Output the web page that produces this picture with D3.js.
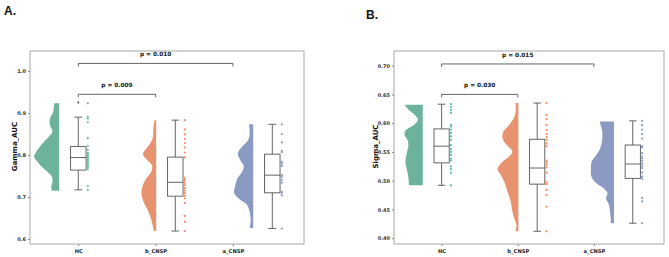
<!DOCTYPE html>
<html><head><meta charset="utf-8">
<script src="https://cdn.jsdelivr.net/npm/d3@7"></script>
<style>body{margin:0;background:#fff}svg{display:block}</style>
</head><body>
<script>
const categories = ["HC", "b_CNSP", "a_CNSP"];
const fillColors = ["#6db39b", "#e9926f", "#8b9ac3"];
const pointColors = ["#5cc29f", "#f7895b", "#8499cc"];

// ---------- Panel A : Gamma_AUC ----------
const gammaTicks = [0.6, 0.7, 0.8, 0.9, 1.0];
const gammaPoints = [
  [0.923, 0.891, 0.887, 0.878, 0.840, 0.822, 0.812, 0.805, 0.800, 0.797, 0.794, 0.790, 0.786, 0.782, 0.778, 0.774, 0.770, 0.766, 0.726, 0.717],
  [0.883, 0.861, 0.849, 0.838, 0.828, 0.818, 0.806, 0.795, 0.745, 0.740, 0.734, 0.729, 0.721, 0.715, 0.709, 0.703, 0.697, 0.686, 0.655, 0.641, 0.619],
  [0.873, 0.850, 0.830, 0.810, 0.807, 0.784, 0.780, 0.774, 0.752, 0.748, 0.741, 0.734, 0.713, 0.710, 0.704, 0.625]
];
// [whisker low, q1, median, q3, whisker high]
const gammaBox = [
  [0.717, 0.764, 0.794, 0.820, 0.890],
  [0.619, 0.702, 0.735, 0.795, 0.883],
  [0.625, 0.710, 0.752, 0.802, 0.873]
];
const gammaOutliers = [[0.925], [], []];
// [value, relative density]
const gammaViolin = [
  [[0.923,0.20],[0.903,0.24],[0.887,0.37],[0.871,0.37],[0.856,0.27],[0.840,0.47],[0.824,0.72],[0.808,0.91],[0.796,1.0],[0.784,0.87],[0.772,0.69],[0.760,0.47],[0.748,0.29],[0.736,0.27],[0.725,0.32],[0.715,0.29]],
  [[0.883,0.07],[0.864,0.11],[0.840,0.14],[0.824,0.28],[0.807,0.50],[0.800,0.52],[0.788,0.36],[0.774,0.16],[0.760,0.20],[0.740,0.44],[0.721,0.57],[0.705,0.58],[0.688,0.50],[0.669,0.34],[0.650,0.22],[0.633,0.14],[0.619,0.09]],
  [[0.873,0.17],[0.852,0.14],[0.836,0.20],[0.820,0.44],[0.804,0.61],[0.788,0.52],[0.774,0.38],[0.760,0.44],[0.745,0.62],[0.726,0.72],[0.710,0.76],[0.695,0.56],[0.681,0.24],[0.664,0.14],[0.645,0.10],[0.626,0.14]]
];
const gammaBrackets = [
  {from: "HC", to: "b_CNSP", level: 0.9445, label: "p = 0.009"},
  {from: "HC", to: "a_CNSP", level: 1.018, label: "p = 0.010"}
];

// ---------- Panel B : Sigma_AUC ----------
const sigmaTicks = [0.40, 0.45, 0.50, 0.55, 0.60, 0.65, 0.70];
const sigmaPoints = [
  [0.633, 0.628, 0.623, 0.618, 0.597, 0.594, 0.589, 0.583, 0.577, 0.571, 0.562, 0.555, 0.550, 0.545, 0.538, 0.535, 0.525, 0.520, 0.514, 0.492],
  [0.635, 0.614, 0.607, 0.597, 0.588, 0.581, 0.576, 0.571, 0.565, 0.560, 0.535, 0.532, 0.528, 0.523, 0.514, 0.498, 0.494, 0.484, 0.475, 0.455, 0.412],
  [0.604, 0.597, 0.589, 0.581, 0.573, 0.560, 0.558, 0.548, 0.542, 0.539, 0.535, 0.530, 0.526, 0.522, 0.514, 0.507, 0.503, 0.470, 0.464, 0.426]
];
const sigmaBox = [
  [0.492, 0.531, 0.560, 0.590, 0.633],
  [0.412, 0.494, 0.522, 0.572, 0.635],
  [0.426, 0.504, 0.529, 0.562, 0.604]
];
const sigmaOutliers = [[], [], []];
const sigmaViolin = [
  [[0.632,0.74],[0.623,0.56],[0.614,0.32],[0.606,0.20],[0.597,0.36],[0.588,0.68],[0.580,0.74],[0.571,0.62],[0.562,0.58],[0.553,0.62],[0.541,0.68],[0.531,0.70],[0.519,0.64],[0.505,0.58],[0.492,0.56]],
  [[0.635,0.11],[0.614,0.13],[0.597,0.37],[0.585,0.61],[0.574,0.64],[0.562,0.47],[0.551,0.24],[0.542,0.37],[0.533,0.64],[0.524,0.81],[0.519,0.84],[0.510,0.71],[0.498,0.57],[0.481,0.44],[0.464,0.31],[0.446,0.24],[0.435,0.17],[0.424,0.08],[0.412,0.11]],
  [[0.603,0.58],[0.594,0.52],[0.585,0.47],[0.574,0.47],[0.556,0.56],[0.542,0.76],[0.533,0.90],[0.522,0.93],[0.507,0.91],[0.496,0.72],[0.487,0.42],[0.478,0.26],[0.470,0.32],[0.458,0.20],[0.446,0.16],[0.435,0.13],[0.426,0.13]]
];
const sigmaBrackets = [
  {from: "HC", to: "b_CNSP", level: 0.650, label: "p = 0.030"},
  {from: "HC", to: "a_CNSP", level: 0.703, label: "p = 0.015"}
];

const svg = d3.select("body").append("svg").attr("width", 669).attr("height", 257);
const FONT = "'DejaVu Sans', sans-serif";

function drawPanel(cfg) {
  const g = svg.append("g");
  const x = d3.scaleLinear().domain([-0.625, 2.92]).range([cfg.left, cfg.right]);
  const y = d3.scaleLinear().domain(cfg.yDomain).range([cfg.bottom, cfg.top]);
  const catIndex = d3.scaleOrdinal().domain(categories).range([0, 1, 2]);
  const spread = 1.255;
  const boxPos = i => i * spread;
  const dens = d3.scaleLinear().domain([0, 1]).range([0, x(0.325) - x(0)]);

  // violins
  categories.forEach((c, i) => {
    const edge = x(boxPos(i) - 0.247);
    const area = d3.area()
      .y(d => y(d[0]))
      .x0(edge)
      .x1(d => edge - dens(d[1]))
      .curve(d3.curveCatmullRom.alpha(0.5));
    g.append("path").datum(cfg.violin[i]).attr("d", area).attr("fill", fillColors[i]);
  });

  // boxes
  categories.forEach((c, i) => {
    const [lo, q1, med, q3, hi] = cfg.box[i];
    const cx = x(boxPos(i));
    const bw = x(0.2) - x(0);
    const cw = x(0.1) - x(0);
    const bg = g.append("g").attr("stroke", "#555").attr("stroke-width", 0.9).attr("fill", "none");
    bg.append("line").attr("x1", cx).attr("x2", cx).attr("y1", y(q3)).attr("y2", y(hi));
    bg.append("line").attr("x1", cx).attr("x2", cx).attr("y1", y(q1)).attr("y2", y(lo));
    bg.append("line").attr("x1", cx - cw / 2).attr("x2", cx + cw / 2).attr("y1", y(hi)).attr("y2", y(hi));
    bg.append("line").attr("x1", cx - cw / 2).attr("x2", cx + cw / 2).attr("y1", y(lo)).attr("y2", y(lo));
    bg.append("rect").attr("x", cx - bw / 2).attr("y", y(q3)).attr("width", bw).attr("height", y(q1) - y(q3)).attr("fill", "#fff");
    bg.append("line").attr("x1", cx - bw / 2).attr("x2", cx + bw / 2).attr("y1", y(med)).attr("y2", y(med));
    g.selectAll(null).data(cfg.outliers[i]).join("circle")
      .attr("cx", cx).attr("cy", d => y(d)).attr("r", 1).attr("fill", "#444");
  });

  // strip points
  categories.forEach((c, i) => {
    const px = x(boxPos(i) + 0.123);
    g.selectAll(null).data(cfg.points[i]).join("circle")
      .attr("cx", px).attr("cy", d => y(d)).attr("r", 1.1)
      .attr("fill", pointColors[i]);
  });

  // frame
  g.append("rect").attr("x", cfg.left).attr("y", cfg.top)
    .attr("width", cfg.right - cfg.left).attr("height", cfg.bottom - cfg.top)
    .attr("fill", "none").attr("stroke", "#a8a8a8").attr("stroke-width", 1);

  // y axis
  const ya = g.append("g").attr("transform", `translate(${cfg.left},0)`)
    .call(d3.axisLeft(y).tickValues(cfg.ticks).tickSize(2).tickPadding(2).tickFormat(d3.format(cfg.fmt)));
  ya.select(".domain").remove();
  ya.selectAll("line").attr("stroke", "#888");
  ya.selectAll("text").attr("font-family", FONT).attr("font-weight", "bold").attr("font-size", 5).attr("fill", "#333");

  // x axis
  const xa = g.append("g").attr("transform", `translate(0,${cfg.bottom})`)
    .call(d3.axisBottom(x).tickValues([0, 1, 2]).tickSize(2).tickPadding(3).tickFormat(i => categories[i]));
  xa.select(".domain").remove();
  xa.selectAll("line").attr("stroke", "#888");
  xa.selectAll("text").attr("font-family", FONT).attr("font-weight", "bold").attr("font-size", 5.2).attr("fill", "#222");

  // y label
  g.append("text").attr("transform", `translate(${cfg.ylabelX},${(cfg.top + cfg.bottom) / 2 - 1}) rotate(-90)`)
    .attr("text-anchor", "middle").attr("font-family", FONT).attr("font-weight", "bold")
    .attr("font-size", 7).attr("fill", "#111").text(cfg.ylabel);

  // panel letter
  g.append("text").attr("x", cfg.letterX).attr("y", cfg.letterY)
    .attr("font-family", "'Liberation Sans', Arial, sans-serif").attr("font-weight", "bold")
    .attr("font-size", 12).attr("fill", "#111").text(cfg.letter);

  // brackets
  cfg.brackets.forEach(b => {
    const x1 = x(catIndex(b.from)), x2 = x(catIndex(b.to)), yy = y(b.level);
    g.append("path").attr("d", `M${x1},${yy + 3}V${yy}H${x2}V${yy + 3}`)
      .attr("fill", "none").attr("stroke", "#555").attr("stroke-width", 0.9);
    g.append("text").attr("x", (x1 + x2) / 2).attr("y", yy - 7)
      .attr("text-anchor", "middle").attr("font-family", FONT).attr("font-weight", "bold")
      .attr("font-size", 5.8).attr("fill", "#111").text(b.label);
  });
}

drawPanel({
  left: 30, right: 304, top: 51, bottom: 244,
  yDomain: [0.5881, 1.0476], ticks: gammaTicks, fmt: ".1f",
  points: gammaPoints, box: gammaBox, outliers: gammaOutliers, violin: gammaViolin,
  brackets: gammaBrackets, ylabel: "Gamma_AUC", ylabelX: 17, letter: "A.", letterX: 4, letterY: 15
});
drawPanel({
  left: 394, right: 664, top: 51, bottom: 244,
  yDomain: [0.3899, 0.7255], ticks: sigmaTicks, fmt: ".2f",
  points: sigmaPoints, box: sigmaBox, outliers: sigmaOutliers, violin: sigmaViolin,
  brackets: sigmaBrackets, ylabel: "Sigma_AUC", ylabelX: 378, letter: "B.", letterX: 366, letterY: 19
});
</script>
</body></html>
